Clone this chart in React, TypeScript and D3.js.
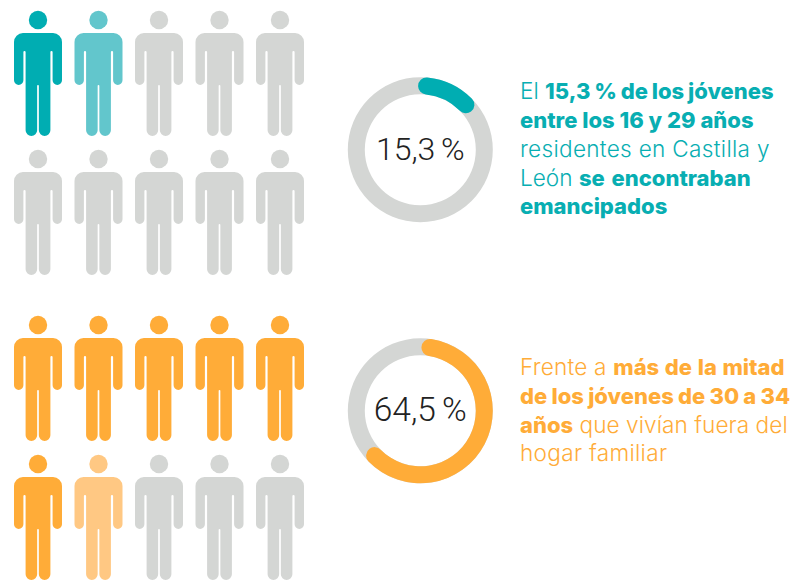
import React from "react";
import * as d3 from "d3";

// Values
const groups = ["16-29", "30-34"];
const shares = [15.3, 64.5];
const shareLabels = ["15,3 %", "64,5 %"];
const startAngles = [-2, 1]; // degrees, the arcs do not start exactly at the top
// 2 = full colour, 1 = light colour, 0 = grey, five figures per row
const peopleRows = [
  [2, 1, 0, 0, 0],
  [0, 0, 0, 0, 0],
  [2, 2, 2, 2, 2],
  [2, 1, 0, 0, 0],
];
const rowGroups = [0, 0, 1, 1];
const fullColors = ["#00adb2", "#ffac38"];
const lightColors = ["#62c6cc", "#ffc883"];
const textColors = ["#08aeb2", "#ffac38"];
const grey = "#d4d6d4";

type Run = { t: string; b?: boolean };
const captions: Run[][][] = [
  [
    [{ t: "El " }, { t: "15,3 % de los jóvenes", b: true }],
    [{ t: "entre los 16 y 29 años", b: true }],
    [{ t: "residentes en Castilla y" }],
    [{ t: "León " }, { t: "se encontraban", b: true }],
    [{ t: "emancipados", b: true }],
  ],
  [
    [{ t: "Frente a " }, { t: "más de la mitad", b: true }],
    [{ t: "de los jóvenes de 30 a 34", b: true }],
    [{ t: "años", b: true }, { t: " que vivían fuera del" }],
    [{ t: "hogar familiar" }],
  ],
];

const width = 791;
const height = 580;

const xPerson = d3.scalePoint<number>().domain([0, 1, 2, 3, 4]).range([38, 280]);
const yPerson = d3.scaleOrdinal<number, number>().domain([0, 1, 2, 3]).range([20, 159, 325, 464]);
const yDonut = d3.scaleOrdinal<string, number>().domain(groups).range([149.7, 410.8]);
const angle = d3.scaleLinear().domain([0, 100]).range([0, 2 * Math.PI]);

// person pictogram, origin in the centre of the head
const bodyPath = () => {
  const p = d3.path();
  const top = 13, armBottom = 65, gapTop = 31, legBottom = 116;
  const torso = 12.4, armIn = 14.6, armOut = 24, legIn = 0.85;
  // right half goes down, left half comes back up
  p.moveTo(-15, top);
  p.lineTo(15, top);
  p.arcTo(armOut, top, armOut, top + 9, 9);
  p.lineTo(armOut, armBottom - 4.7);
  p.arcTo(armOut, armBottom, armOut - 4.7, armBottom, 4.7);
  p.arcTo(armIn, armBottom, armIn, armBottom - 4.7, 4.7);
  p.lineTo(armIn, gapTop + 1);
  p.arcTo(armIn, gapTop, armIn - 1.1, gapTop, 1.1);
  p.arcTo(torso, gapTop, torso, gapTop + 1, 1.1);
  p.lineTo(torso, legBottom - 5.8);
  p.arcTo(torso, legBottom, torso - 5.8, legBottom, 5.8);
  p.arcTo(legIn, legBottom, legIn, legBottom - 5.8, 5.8);
  p.lineTo(legIn, armBottom + 0.8);
  p.arcTo(legIn, armBottom, 0, armBottom, 0.85);
  p.arcTo(-legIn, armBottom, -legIn, armBottom + 0.8, 0.85);
  p.lineTo(-legIn, legBottom - 5.8);
  p.arcTo(-legIn, legBottom, -torso + 5.8, legBottom, 5.8);
  p.arcTo(-torso, legBottom, -torso, legBottom - 5.8, 5.8);
  p.lineTo(-torso, gapTop + 1);
  p.arcTo(-torso, gapTop, -armIn + 1.1, gapTop, 1.1);
  p.arcTo(-armIn, gapTop, -armIn, gapTop + 1, 1.1);
  p.lineTo(-armIn, armBottom - 4.7);
  p.arcTo(-armIn, armBottom, -armOut + 4.7, armBottom, 4.7);
  p.arcTo(-armOut, armBottom, -armOut, armBottom - 4.7, 4.7);
  p.lineTo(-armOut, top + 9);
  p.arcTo(-armOut, top, -15, top, 9);
  p.closePath();
  return p.toString();
};

const ringArc = d3.arc<{ startAngle: number; endAngle: number }>()
  .innerRadius(55.5)
  .outerRadius(72.5);
const valueArc = d3.arc<{ startAngle: number; endAngle: number }>()
  .innerRadius(55.5)
  .outerRadius(72.5)
  .cornerRadius(8.5);

const textY = [[99, 128, 157, 186, 214], [375, 404, 433, 461]];
const labelSizes = [32, 33.5];
// Inter is not the original face, these pull each line to the reference width
const boldWordSpacing = [[-1, 0, 0, 2, 0], [0.8, -0.6, 0, 0]];
const lightLetterSpacing = [[0, 0, 0.3, 0, 0], [0.2, 0, 0.05, 0.3]];

export default function App() {
  const body = bodyPath();
  return (
    <svg width={width} height={height} style={{ position: "absolute", left: 0, top: 0 }}>
      {peopleRows.map((row, r) =>
        row.map((state, c) => {
          const g = rowGroups[r];
          const fill = state === 2 ? fullColors[g] : state === 1 ? lightColors[g] : grey;
          return (
            <g key={`${r}-${c}`} transform={`translate(${xPerson(c)},${yPerson(r)})`} fill={fill}>
              <circle r={9.2} />
              <path d={body} />
            </g>
          );
        })
      )}
      {groups.map((g, i) => {
        const a0 = (startAngles[i] * Math.PI) / 180;
        return (
          <g key={g} transform={`translate(420.3,${yDonut(g)})`}>
            <path d={ringArc({ startAngle: 0, endAngle: 2 * Math.PI }) ?? ""} fill={grey} />
            <path
              d={valueArc({ startAngle: a0, endAngle: a0 + angle(shares[i]) }) ?? ""}
              fill={fullColors[i]}
            />
            <text
              textAnchor="middle"
              y={10}
              fontFamily="Roboto, sans-serif"
              fontWeight={300}
              fontSize={labelSizes[i]}
              wordSpacing={-2}
              fill="#222222"
            >
              {shareLabels[i]}
            </text>
          </g>
        );
      })}
      {captions.map((lines, i) =>
        lines.map((runs, l) => (
          <text key={`${i}-${l}`} x={520} y={textY[i][l]} fontFamily="Inter, sans-serif" fill={textColors[i]}>
            {runs.map((run, k) =>
              run.b ? (
                <tspan key={k} fontWeight={800} fontSize={22} wordSpacing={boldWordSpacing[i][l]}>{run.t}</tspan>
              ) : (
                <tspan key={k} fontWeight={300} fontSize={22.6} letterSpacing={lightLetterSpacing[i][l]}>{run.t}</tspan>
              )
            )}
          </text>
        ))
      )}
    </svg>
  );
}
